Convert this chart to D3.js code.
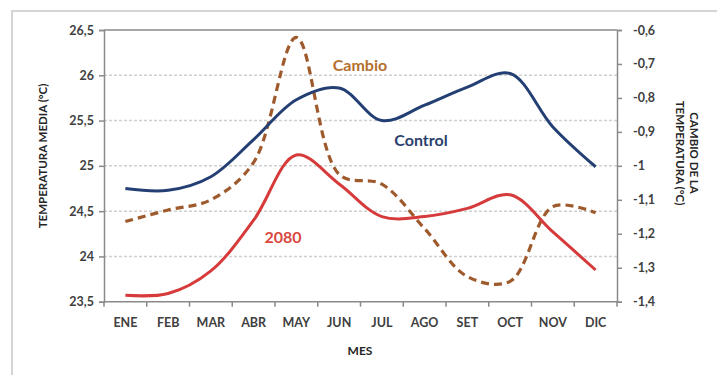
<!DOCTYPE html>
<html><head><meta charset="utf-8">
<script src="https://cdn.jsdelivr.net/npm/d3@7"></script>
<style>body{margin:0;background:#fff}svg text{font-family:Lato,"Open Sans",sans-serif;font-weight:bold}</style>
</head><body><svg id="c" width="717" height="375"></svg>
<script>
const months = ["ENE","FEB","MAR","ABR","MAY","JUN","JUL","AGO","SET","OCT","NOV","DIC"];
const control = [24.75,24.73,24.88,25.29,25.73,25.86,25.50,25.67,25.87,26.02,25.43,24.99];
const y2080 = [23.57,23.59,23.84,24.40,25.12,24.80,24.44,24.44,24.53,24.68,24.27,23.85];
const cambio = [-1.164,-1.13,-1.10,-0.99,-0.622,-1.025,-1.054,-1.185,-1.326,-1.34,-1.12,-1.138];
const leftTicks = [23.5,24,24.5,25,25.5,26,26.5];
const rightTicks = [-1.4,-1.3,-1.2,-1.1,-1,-0.9,-0.8,-0.7,-0.6];

const svg = d3.select("#c");
const L=104, R=617, T=30, B=301.7;
const fmt = v => String(v).replace(".", ",");

svg.append("rect").attr("x",12).attr("y",11).attr("width",720).attr("height",380)
  .attr("fill","none").attr("stroke","#d4d4d4").attr("stroke-width",2);

const x = d3.scaleBand().domain(months).range([L,R]);
const yL = d3.scaleLinear().domain([23.5,26.5]).range([B,T]);
const yR = d3.scaleLinear().domain([-1.4,-0.6]).range([B,T]);

// gridlines
svg.append("g").selectAll("line").data(leftTicks.slice(1,-1)).join("line")
  .attr("x1",L).attr("x2",R).attr("y1",d=>yL(d)).attr("y2",d=>yL(d))
  .attr("stroke","#d0d0d0").attr("stroke-width",1.5).attr("stroke-dasharray","3,2");
// top border
svg.append("line").attr("x1",L).attr("x2",R).attr("y1",T).attr("y2",T)
  .attr("stroke","#8a8a8a").attr("stroke-width",1.5);

const axCol="#8a8a8a", txtCol="#404040";
const gL = svg.append("g").attr("transform",`translate(${L},0)`)
  .call(d3.axisLeft(yL).tickValues(leftTicks).tickFormat(fmt).tickSize(5).tickPadding(5));
const gR = svg.append("g").attr("transform",`translate(${R},0)`)
  .call(d3.axisRight(yR).tickValues(rightTicks).tickFormat(d=>fmt(+d.toFixed(1))).tickSize(5).tickPadding(11));
const gX = svg.append("g").attr("transform",`translate(0,${B})`)
  .call(d3.axisBottom(x).tickSize(0).tickPadding(16));
// category boundary ticks
svg.append("g").selectAll("line").data(d3.range(13)).join("line")
  .attr("x1",i=>L+i*x.step()).attr("x2",i=>L+i*x.step()).attr("y1",B).attr("y2",B+5)
  .attr("stroke",axCol).attr("stroke-width",1.5);
[gL,gR,gX].forEach(g=>{
  g.selectAll(".domain").attr("stroke",axCol).attr("stroke-width",1.5);
  g.selectAll(".tick line").attr("stroke",axCol).attr("stroke-width",1.5);
  g.selectAll("text").attr("fill",txtCol).style("font-size","12.5px");
});
gX.select(".domain").attr("d",`M${L},0H${R}`);

const cx = d => x(d)+x.bandwidth()/2;
const curve = d3.curveCatmullRom.alpha(0.5);
const line = (arr, ys) => d3.line().x((d,i)=>cx(months[i])).y(d=>ys(d)).curve(curve)(arr);

svg.append("path").attr("d",line(cambio,yR)).attr("fill","none")
  .attr("stroke","#9e5a2c").attr("stroke-width",3.2).attr("stroke-dasharray","8,5");
svg.append("path").attr("d",line(control,yL)).attr("fill","none")
  .attr("stroke","#243f74").attr("stroke-width",3);
svg.append("path").attr("d",line(y2080,yL)).attr("fill","none")
  .attr("stroke","#d63a3a").attr("stroke-width",3);

// labels
svg.append("text").attr("x",360).attr("y",71).attr("text-anchor","middle")
  .attr("fill","#b5702f").style("font-size","16px").text("Cambio");
svg.append("text").attr("x",421).attr("y",146).attr("text-anchor","middle")
  .attr("fill","#2b3f6e").style("font-size","16px").text("Control");
svg.append("text").attr("x",283).attr("y",243).attr("text-anchor","middle")
  .attr("fill","#d9473f").style("font-size","16px").text("2080");

// axis titles
svg.append("text").attr("transform","translate(47,156) rotate(-90)").attr("text-anchor","middle")
  .attr("fill","#262626").style("font-size","11.5px").text("TEMPERATURA MEDIA (°C)");
svg.append("text").attr("x",360).attr("y",355).attr("text-anchor","middle")
  .attr("fill","#262626").style("font-size","12px").text("MES");
const rt = svg.append("text").attr("transform","translate(685,153) rotate(90)").attr("text-anchor","middle")
  .attr("fill","#262626").style("font-size","11.5px");
rt.append("tspan").attr("x",0).attr("dy","-0.4em").text("CAMBIO DE LA");
rt.append("tspan").attr("x",0).attr("dy","1.15em").text("TEMPERATURA (°C)");
</script></body></html>
